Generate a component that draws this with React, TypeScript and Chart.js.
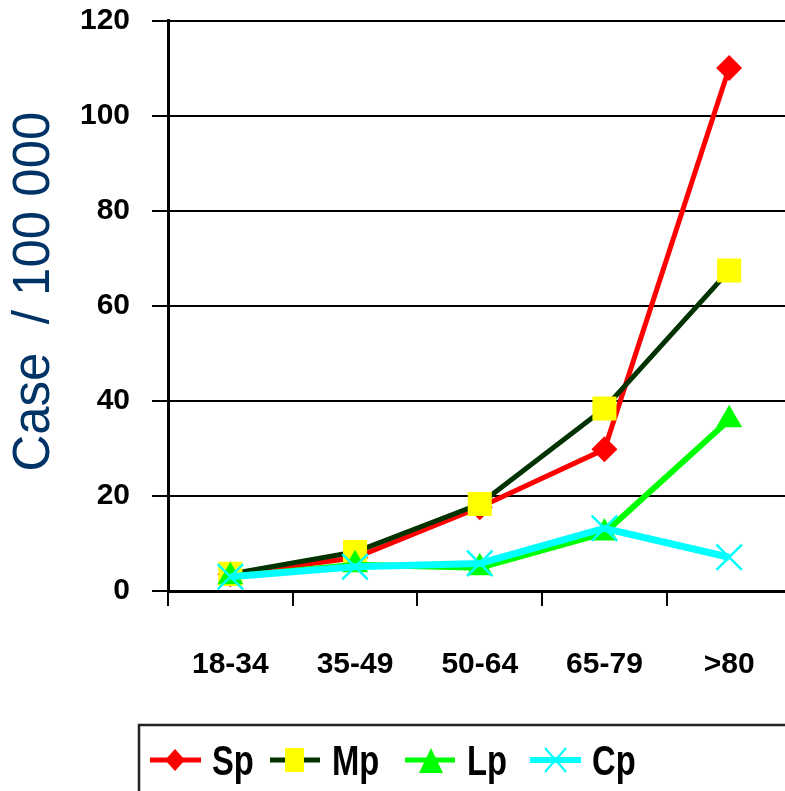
import React, { useEffect, useRef } from "react";
import { Chart, registerables } from "chart.js";

Chart.register(...registerables);

const categories = ["18-34", "35-49", "50-64", "65-79", ">80"];
const seriesNames = ["Sp", "Mp", "Lp", "Cp"];
const spValues = [3.5, 7, 17.6, 29.8, 110];
const mpValues = [3.6, 8.2, 18.3, 38.4, 67.4];
const lpValues = [3, 5.5, 4.9, 12.2, 36];
const cpValues = [3, 5.1, 5.8, 13.2, 7.1];
const yTicks = [0, 20, 40, 60, 80, 100, 120];
const yTitle = "  Case  / 100 000";

const FONT = "Arial, 'Liberation Sans', Helvetica, sans-serif";

const legendPlugin = {
  id: "customLegend",
  afterDraw(chart: any) {
    const ctx = chart.ctx;
    ctx.save();
    ctx.strokeStyle = "#222";
    ctx.lineWidth = 2.5;
    ctx.strokeRect(139, 725, 700, 90);
    const cy = 760;
    const line = (x1: number, x2: number, color: string, w: number) => {
      ctx.beginPath();
      ctx.strokeStyle = color;
      ctx.lineWidth = w;
      ctx.moveTo(x1, cy);
      ctx.lineTo(x2, cy);
      ctx.stroke();
    };
    // Sp
    line(150, 201, "#ff0000", 5);
    ctx.beginPath();
    ctx.fillStyle = "#ff0000";
    ctx.moveTo(165, cy);
    ctx.lineTo(175, cy - 11);
    ctx.lineTo(185, cy);
    ctx.lineTo(175, cy + 11);
    ctx.closePath();
    ctx.fill();
    // Mp
    line(270, 320, "#003300", 5);
    ctx.fillStyle = "#ffff00";
    ctx.fillRect(285, 748, 19, 24);
    // Lp
    line(405, 455, "#00ff00", 5);
    ctx.beginPath();
    ctx.fillStyle = "#00ff00";
    ctx.moveTo(431, 748);
    ctx.lineTo(443, 773);
    ctx.lineTo(419, 773);
    ctx.closePath();
    ctx.fill();
    // Cp
    line(530, 581, "#00ffff", 6);
    ctx.beginPath();
    ctx.strokeStyle = "#00ffff";
    ctx.lineWidth = 2;
    ctx.moveTo(545, 748);
    ctx.lineTo(566, 772);
    ctx.moveTo(566, 748);
    ctx.lineTo(545, 772);
    ctx.stroke();
    const xs = [212, 332, 467, 592];
    ctx.fillStyle = "#000";
    ctx.font = "bold 42px " + FONT;
    ctx.textBaseline = "alphabetic";
    ctx.textAlign = "left";
    seriesNames.forEach((name, i) => {
      ctx.save();
      ctx.translate(xs[i], 775);
      ctx.scale(0.78, 1);
      ctx.fillText(name, 0, 0);
      ctx.restore();
    });
    ctx.restore();
  },
};

export default function App() {
  const ref = useRef<HTMLCanvasElement>(null);
  useEffect(() => {
    if (!ref.current) return;
    const tickFont = { family: FONT, size: 30, weight: "bold" as const };
    const chart = new Chart(ref.current, {
      type: "line",
      data: {
        labels: categories,
        datasets: [
          {
            label: seriesNames[0],
            data: spValues,
            borderColor: "#ff0000",
            backgroundColor: "#ff0000",
            borderWidth: 5,
            pointStyle: "rectRot",
            pointRadius: 13,
            pointBorderWidth: 0,
            pointBackgroundColor: "#ff0000",
            order: 4,
          },
          {
            label: seriesNames[1],
            data: mpValues,
            borderColor: "#003300",
            backgroundColor: "#ffff00",
            borderWidth: 5,
            pointStyle: "rect",
            pointRadius: 17,
            pointBorderWidth: 0,
            pointBackgroundColor: "#ffff00",
            order: 3,
          },
          {
            label: seriesNames[2],
            data: lpValues,
            borderColor: "#00ff00",
            backgroundColor: "#00ff00",
            borderWidth: 6,
            pointStyle: "triangle",
            pointRadius: 15,
            pointBorderWidth: 0,
            pointBackgroundColor: "#00ff00",
            order: 2,
          },
          {
            label: seriesNames[3],
            data: cpValues,
            borderColor: "#00ffff",
            backgroundColor: "#00ffff",
            borderWidth: 7,
            pointStyle: "crossRot",
            pointRadius: 18,
            pointBorderWidth: 2.5,
            pointBorderColor: "#00ffff",
            order: 1,
          },
        ],
      },
      options: {
        animation: false,
        responsive: false,
        layout: { padding: { top: 0, bottom: 109, left: 0, right: 7 } },
        plugins: {
          legend: { display: false },
          tooltip: { enabled: false },
        },
        scales: {
          x: {
            offset: true,
            afterFit: (s: any) => {
              s.height = 100;
            },
            grid: {
              display: true,
              offset: true,
              drawOnChartArea: false,
              drawTicks: true,
              tickLength: 15,
              color: "#000",
              lineWidth: 2,
            },
            border: { display: true, color: "#000", width: 3 },
            ticks: { font: tickFont, color: "#000", padding: 41, maxRotation: 0 },
          },
          y: {
            min: 0,
            max: 120,
            afterFit: (s: any) => {
              s.width = 168;
              s.paddingTop = 20;
              s.paddingBottom = 0;
            },
            afterBuildTicks: (s: any) => {
              s.ticks = yTicks.map((v) => ({ value: v }));
            },
            grid: {
              color: "#000",
              lineWidth: 2,
              drawTicks: true,
              tickLength: 16,
            },
            border: { display: true, color: "#000", width: 3 },
            ticks: { font: tickFont, color: "#000", padding: 22 },
            title: {
              display: true,
              text: yTitle,
              color: "#003366",
              font: { family: FONT, size: 51, weight: "normal" as const },
              padding: { top: 4, bottom: 0 },
            },
          },
        },
      },
      plugins: [legendPlugin],
    });
    return () => chart.destroy();
  }, []);
  return (
    <div
      style={{
        position: "absolute",
        left: 0,
        top: 0,
        width: 785,
        height: 791,
        overflow: "hidden",
        background: "#fff",
      }}
    >
      <canvas ref={ref} width={812} height={800} style={{ width: 812, height: 800, display: "block" }} />
    </div>
  );
}
